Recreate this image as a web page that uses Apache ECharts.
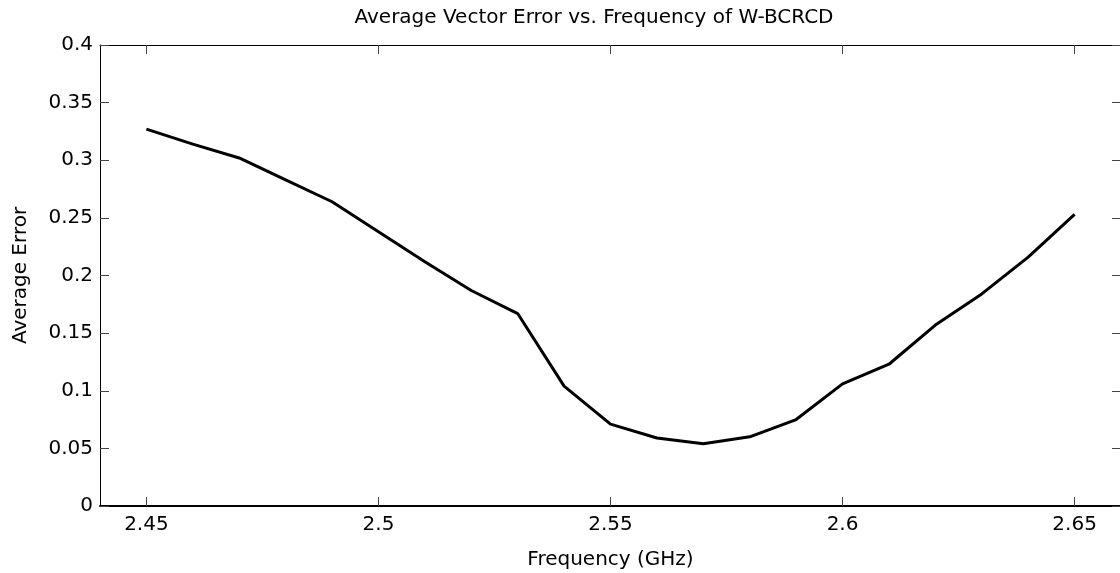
<!DOCTYPE html>
<html>
<head>
<meta charset="utf-8">
<script src="https://cdn.jsdelivr.net/npm/echarts@6/dist/echarts.min.js"></script>
<style>
html,body{margin:0;padding:0;background:#fff;}
#chart{width:1120px;height:573px;}
</style>
</head>
<body>
<div id="chart"></div>
<script>
const titleText = 'Average Vector Error vs. Frequency of W-BCRCD';
const xName = 'Frequency (GHz)';
const yName = 'Average Error';
const freq = [2.45,2.46,2.47,2.48,2.49,2.50,2.51,2.52,2.53,2.54,2.55,2.56,2.57,2.58,2.59,2.60,2.61,2.62,2.63,2.64,2.65];
const avgError = [0.327,0.314,0.302,0.283,0.264,0.238,0.212,0.187,0.167,0.104,0.071,0.059,0.054,0.060,0.075,0.106,0.123,0.157,0.184,0.216,0.253];
const xTicks = [2.45,2.5,2.55,2.6,2.65];
const yTicks = [0,0.05,0.1,0.15,0.2,0.25,0.3,0.35,0.4];

const FONT = 'DejaVu Sans';
const chart = echarts.init(document.getElementById('chart'));
const tickStyle = {show:true, inside:true, length:9, lineStyle:{color:'#444', width:1}};
chart.setOption({
  animation:false,
  backgroundColor:'#fff',
  title:{
    text:titleText, left:594, top:8, textAlign:'center', padding:0,
    textStyle:{fontFamily:FONT, fontSize:20, fontWeight:'normal', color:'#000'}
  },
  grid:{left:100, top:45, width:1021, height:461, containLabel:false, outerBoundsMode:'none'},
  xAxis:[{
    type:'value', min:2.44, max:2.66, position:'bottom',
    name:xName, nameLocation:'middle', nameGap:44,
    nameTextStyle:{fontFamily:FONT, fontSize:20, color:'#000'},
    axisLine:{show:true, onZero:false, lineStyle:{color:'#000', width:2}},
    axisTick:Object.assign({customValues:xTicks}, tickStyle),
    axisLabel:{customValues:xTicks, margin:9, fontFamily:FONT, fontSize:20, color:'#000', formatter:v=>String(+v.toFixed(2))},
    splitLine:{show:false}
  },{
    type:'value', min:2.44, max:2.66, position:'top',
    axisLine:{show:true, onZero:false, lineStyle:{color:'#000', width:1}},
    axisTick:Object.assign({customValues:xTicks}, tickStyle),
    axisLabel:{show:false},
    splitLine:{show:false}
  }],
  yAxis:[{
    type:'value', min:0, max:0.4, interval:0.05, position:'left',
    name:yName, nameLocation:'middle', nameGap:69,
    nameTextStyle:{fontFamily:FONT, fontSize:20, color:'#000'},
    axisLine:{show:true, onZero:false, lineStyle:{color:'#000', width:1}},
    axisTick:tickStyle,
    axisLabel:{margin:7, fontFamily:FONT, fontSize:20, color:'#000', formatter:v=>String(+v.toFixed(2))},
    splitLine:{show:false}
  },{
    type:'value', min:0, max:0.4, interval:0.05, position:'right',
    axisLine:{show:true, onZero:false, lineStyle:{color:'#000', width:1}},
    axisTick:tickStyle,
    axisLabel:{show:false},
    splitLine:{show:false}
  }],
  series:[{
    type:'line', xAxisIndex:0, yAxisIndex:0,
    data:freq.map((f,i)=>[f, avgError[i]]),
    showSymbol:false, symbol:'none', smooth:false,
    lineStyle:{color:'#000', width:3}
  }]
});
</script>
</body>
</html>
